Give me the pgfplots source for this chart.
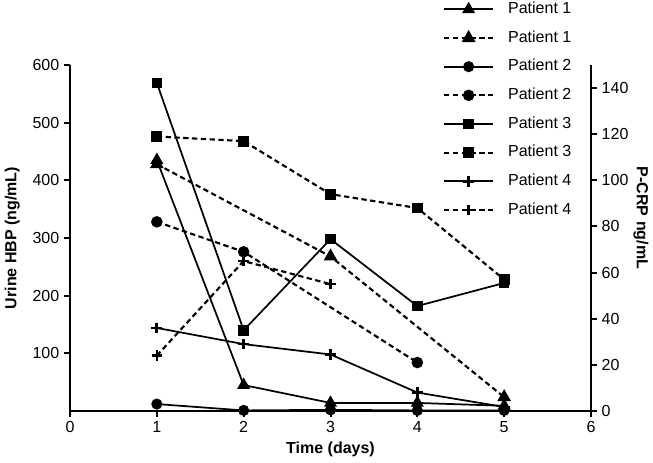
\documentclass[border=0pt]{standalone}
\usepackage{fontspec}
\setmainfont{Liberation Sans}
\usepackage{pgfplots}
\pgfplotsset{compat=1.18}

% solid = urine HBP (left axis), dashed = P-CRP (right axis)
\pgfplotsset{
  hbp/.style={black, line width=1.3pt, mark options={solid, fill=black}},
  crp/.style={black, line width=1.6pt, dash pattern=on 4pt off 2.6pt, mark options={solid, fill=black}},
  tri/.style={mark=triangle*, mark size=4.4pt},
  dot/.style={mark=*, mark size=3.5pt},
  sq/.style={mark=square*, mark size=3.3pt},
  pl/.style={mark=+, mark size=4pt, mark options={solid, line width=2pt}},
  base/.style={
    scale only axis, width=390.75pt, height=259.5pt,
    xmin=0, xmax=6, at={(0,0)}, anchor=south west,
    tick align=outside, major tick length=4.5pt,
    every tick/.style={black, line width=1.5pt},
    axis line style={line width=1.5pt},
    tick label style={font=\fontsize{12}{14}\selectfont},
    label style={font=\bfseries\fontsize{12}{14}\selectfont},
    /pgf/number format/assume math mode=true,
    clip=false,
  },
}

\begin{document}
\begin{tikzpicture}
\useasboundingbox (-52.5pt,-39pt) rectangle (437.25pt,308.25pt);

\begin{axis}[base,
    axis x line*=bottom, axis y line*=left,
    ymin=0, ymax=600,
    xtick={0,1,...,6},
    ytick={100,200,...,600},
    xlabel={Time (days)},
    ylabel={Urine HBP (ng/mL)},
    x label style={at={(axis description cs:0.5,-0.11)}, anchor=center},
    y label style={at={(axis description cs:-0.111,0.5)}, anchor=center},
]
\addplot[hbp, tri] coordinates {(1,435) (2,45) (3,14) (4,14) (5,9)};
\addplot[hbp, dot] coordinates {(1,12) (2,1) (3,2) (4,1) (5,1)};
\addplot[hbp, sq] coordinates {(1,569) (2,140) (3,298) (4,182) (5,222)};
\addplot[hbp, pl] coordinates {(1,144) (2,116) (3,98) (4,32) (5,7)};
\end{axis}

\begin{axis}[base,
    axis x line=none, axis y line*=right,
    ymin=0, ymax=150,
    ytick={0,20,...,140},
    ylabel={P-CRP ng/mL},
    y label style={at={(axis description cs:1.096,0.558)}, anchor=center, rotate=180},
    legend style={draw=none, fill=none, at={(0.716,1.182)}, anchor=north west,
      inner sep=0pt, outer sep=0pt, row sep=10.5pt, column sep=10.5pt,
      nodes={inner sep=0pt, text height=8.5pt, text depth=2.5pt,
             font=\fontsize{12}{14}\selectfont}},
    legend cell align=left,
    legend image code/.code={\draw[mark repeat=2, mark phase=2, #1]
      plot coordinates {(0pt,0pt) (18.4pt,0pt) (36.75pt,0pt)};},
]
\addlegendimage{hbp, tri}\addlegendentry{Patient 1}
\addlegendimage{crp, tri}\addlegendentry{Patient 1}
\addlegendimage{hbp, dot}\addlegendentry{Patient 2}
\addlegendimage{crp, dot}\addlegendentry{Patient 2}
\addlegendimage{hbp, sq}\addlegendentry{Patient 3}
\addlegendimage{crp, sq}\addlegendentry{Patient 3}
\addlegendimage{hbp, pl}\addlegendentry{Patient 4}
\addlegendimage{crp, pl}\addlegendentry{Patient 4}
\addplot[crp, tri, forget plot] coordinates {(1,107) (3,67) (5,6)};
\addplot[crp, dot, forget plot] coordinates {(1,82) (2,69) (4,21)};
\addplot[crp, sq, forget plot] coordinates {(1,119) (2,117) (3,94) (4,88) (5,57)};
\addplot[crp, pl, forget plot] coordinates {(1,24) (2,65) (3,55)};
\end{axis}
\end{tikzpicture}
\end{document}
